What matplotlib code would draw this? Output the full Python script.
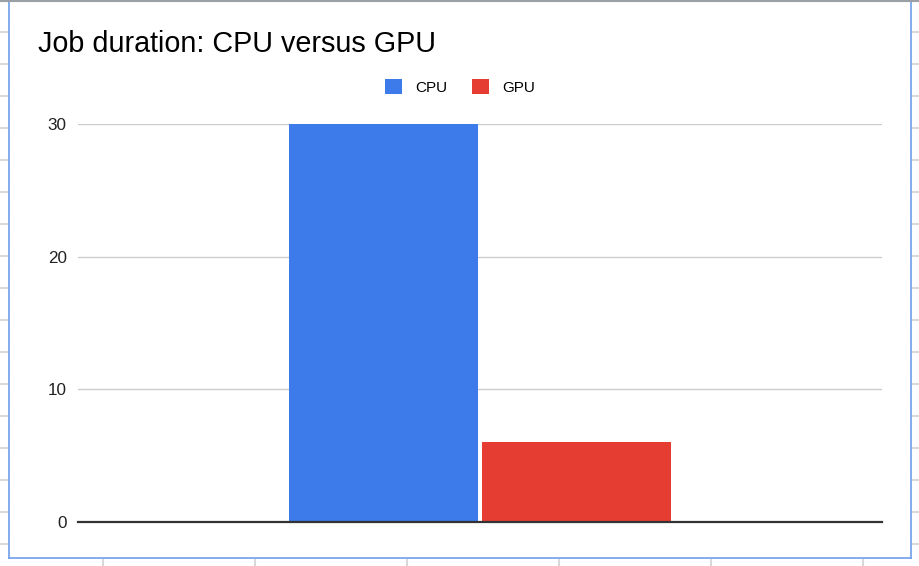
import matplotlib
matplotlib.use("Agg")
import matplotlib.pyplot as plt
from matplotlib.patches import Patch

# Dados do gráfico
categories = [""]
series_names = ["CPU", "GPU"]
cpu_values = [30]
gpu_values = [6]
y_ticks = [0, 10, 20, 30]

colors = {"CPU": "#3c7be9", "GPU": "#e53d32"}

W, H = 920, 566
fig = plt.figure(figsize=(W / 100, H / 100), dpi=100)
fig.patch.set_facecolor("white")

# Fundo da planilha (linhas de grade fora do quadro do gráfico)
bg = fig.add_axes([0, 0, 1, 1], zorder=0)
bg.set_xlim(0, W)
bg.set_ylim(H, 0)
bg.axis("off")
grid_col = "#d9d9d9"
for y in range(32, H, 32):
    bg.plot([0, 9], [y, y], color=grid_col, lw=1.5, solid_capstyle="butt")
    bg.plot([911, W], [y, y], color=grid_col, lw=1.5, solid_capstyle="butt")
for x in range(103, W, 152):
    bg.plot([x, x], [559, H], color=grid_col, lw=1.5, solid_capstyle="butt")
# Quadro do gráfico
frame = "#6d9eeb"
bg.plot([9, 9], [1, 558], color=frame, lw=1.2)
bg.plot([911, 911], [1, 558], color=frame, lw=1.2)
bg.plot([9, 911], [558, 558], color=frame, lw=1.2)
bg.plot([0, W], [0.5, 0.5], color="#9aa0a6", lw=1.5)

# Eixos principais
ax = fig.add_axes([78 / W, 44 / H, 804 / W, 398 / H], zorder=1)
ax.patch.set_alpha(0)

bar_w = 0.235
offset = 0.1206
x = list(range(len(categories)))
ax.bar([i - offset for i in x], cpu_values, width=bar_w, color=colors["CPU"], zorder=2)
ax.bar([i + offset for i in x], gpu_values, width=bar_w, color=colors["GPU"], zorder=2)

ax.set_xlim(-0.5, 0.5)
ax.set_ylim(0, 30)
ax.set_yticks(y_ticks)
ax.set_yticklabels([str(v) for v in y_ticks], fontsize=12.3, color="#222222",
                   fontfamily="Liberation Sans")
ax.tick_params(axis="y", length=0, pad=8)
ax.set_xticks([])
ax.grid(axis="y", color="#cccccc", lw=1)
ax.set_axisbelow(True)
for side in ["top", "right", "left"]:
    ax.spines[side].set_visible(False)
ax.spines["bottom"].set_color("#333333")
ax.spines["bottom"].set_linewidth(1.6)
ax.spines["bottom"].set_zorder(3)
ax.spines["bottom"].set_clip_on(False)

# Título
fig.text(38 / W, 1 - 44 / H, "Job duration: CPU versus GPU", fontsize=20.7,
         fontfamily="Liberation Sans", va="center", ha="left", color="#000000")

# Legenda
handles = [Patch(facecolor=colors[n], edgecolor="none", label=n) for n in series_names]
fig.legend(handles=handles, loc="center", bbox_to_anchor=(460 / W, 1 - 87 / H),
           ncol=2, frameon=False, handlelength=1.1, handleheight=1.1,
           handletextpad=0.9, columnspacing=1.6,
           prop={"family": "Liberation Sans", "size": 11})

fig.savefig("out.png", dpi=100, facecolor="white")
